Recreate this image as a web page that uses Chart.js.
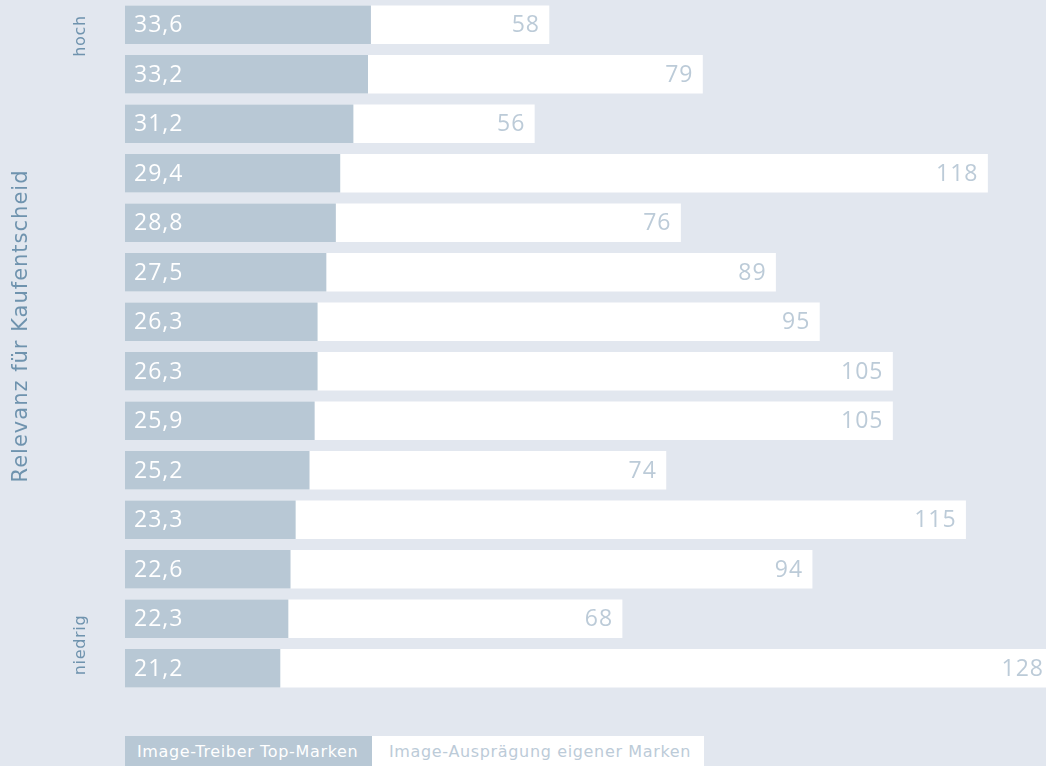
<!DOCTYPE html>
<html>
<head>
<meta charset="utf-8">
<script src="https://cdn.jsdelivr.net/npm/chart.js@4"></script>
<style>
  html, body { margin: 0; padding: 0; background: #e2e7ef; }
  body { width: 1046px; height: 766px; position: relative; overflow: hidden; font-family: "DejaVu Sans", sans-serif; }
  #wrap { position: absolute; left: 0; top: 0; width: 1046px; height: 693px; }
  #legend { position: absolute; left: 125px; top: 736px; height: 30px; display: flex; }
  #legend span { display: block; height: 30px; line-height: 31px; font-size: 16px; letter-spacing: 0.65px; box-sizing: border-box; white-space: nowrap; }
</style>
</head>
<body>
<div id="wrap"><canvas id="chart"></canvas></div>
<div id="legend"></div>
<script>
document.addEventListener('DOMContentLoaded', function () {
    // values
    const rows = ['1', '2', '3', '4', '5', '6', '7', '8', '9', '10', '11', '12', '13', '14'];
    const topMarken = [33.6, 33.2, 31.2, 29.4, 28.8, 27.5, 26.3, 26.3, 25.9, 25.2, 23.3, 22.6, 22.3, 21.2];
    const eigeneMarken = [58, 79, 56, 118, 76, 89, 95, 105, 105, 74, 115, 94, 68, 128];
    const seriesNames = ['Image-Treiber Top-Marken', 'Image-Ausprägung eigener Marken'];

    const grey = '#b8c8d5';
    const labelGrey = '#bccbd8';
    const titleBlue = '#6f93ae';

    const fmt = v => String(v).replace('.', ',');

    function rotatedText(ctx, text, x, y, font, spacing) {
        ctx.save();
        ctx.fillStyle = titleBlue;
        ctx.textBaseline = 'middle';
        ctx.textAlign = 'center';
        ctx.font = font;
        ctx.letterSpacing = spacing || '0px';
        ctx.translate(x, y);
        ctx.rotate(-Math.PI / 2);
        ctx.fillText(text, 0, 0);
        ctx.restore();
    }

    const labelPlugin = {
        id: 'barLabels',
        afterDatasetsDraw(chart) {
            const ctx = chart.ctx;
            const area = chart.chartArea;
            ctx.save();
            ctx.font = '500 23px "Open Sans"';
            ctx.letterSpacing = '1px';
            ctx.textBaseline = 'middle';
            // white bars: value at the right end
            chart.getDatasetMeta(1).data.forEach((bar, i) => {
                ctx.fillStyle = labelGrey;
                ctx.textAlign = 'right';
                const x = Math.min(bar.x, area.right + 7) - 9;
                ctx.fillText(eigeneMarken[i], x, bar.y + 1);
            });
            // grey bars: value at the left
            chart.getDatasetMeta(0).data.forEach((bar, i) => {
                ctx.fillStyle = '#ffffff';
                ctx.textAlign = 'left';
                ctx.fillText(fmt(topMarken[i]), bar.base + 9, bar.y + 1);
            });
            ctx.restore();

            // side texts
            rotatedText(ctx, 'Relevanz für Kaufentscheid', 22, 326, '21px "DejaVu Sans"', '1px');
            rotatedText(ctx, 'hoch', 81, 36, '16px "DejaVu Sans"', '0.7px');
            rotatedText(ctx, 'niedrig', 81, 645, '16px "DejaVu Sans"', '0.7px');
        }
    };

    new Chart(document.getElementById('chart').getContext('2d'), {
        type: 'bar',
        data: {
            labels: rows,
            datasets: [{
                label: seriesNames[0],
                data: topMarken,
                backgroundColor: grey,
                borderWidth: 0,
                grouped: false,
                barThickness: 38
            }, {
                label: seriesNames[1],
                data: eigeneMarken,
                backgroundColor: '#ffffff',
                borderWidth: 0,
                grouped: false,
                barThickness: 38
            }]
        },
        options: {
            indexAxis: 'y',
            responsive: true,
            maintainAspectRatio: false,
            animation: false,
            layout: { padding: { left: 125, top: 0, right: 0, bottom: 0 } },
            scales: {
                x: { display: false, min: 0, max: 126 },
                y: { display: false }
            },
            plugins: {
                legend: { display: false },
                tooltip: { enabled: false }
            }
        },
        plugins: [labelPlugin]
    });

    // legend boxes below the chart
    const legend = document.getElementById('legend');
    const a = document.createElement('span');
    a.textContent = seriesNames[0];
    a.style.cssText = 'background:' + grey + ';color:#fff;width:247px;padding-left:12px;';
    const b = document.createElement('span');
    b.textContent = seriesNames[1];
    b.style.cssText = 'background:#fff;color:' + labelGrey + ';width:332px;padding-left:17px;';
    legend.appendChild(a);
    legend.appendChild(b);
});
</script>
</body>
</html>
